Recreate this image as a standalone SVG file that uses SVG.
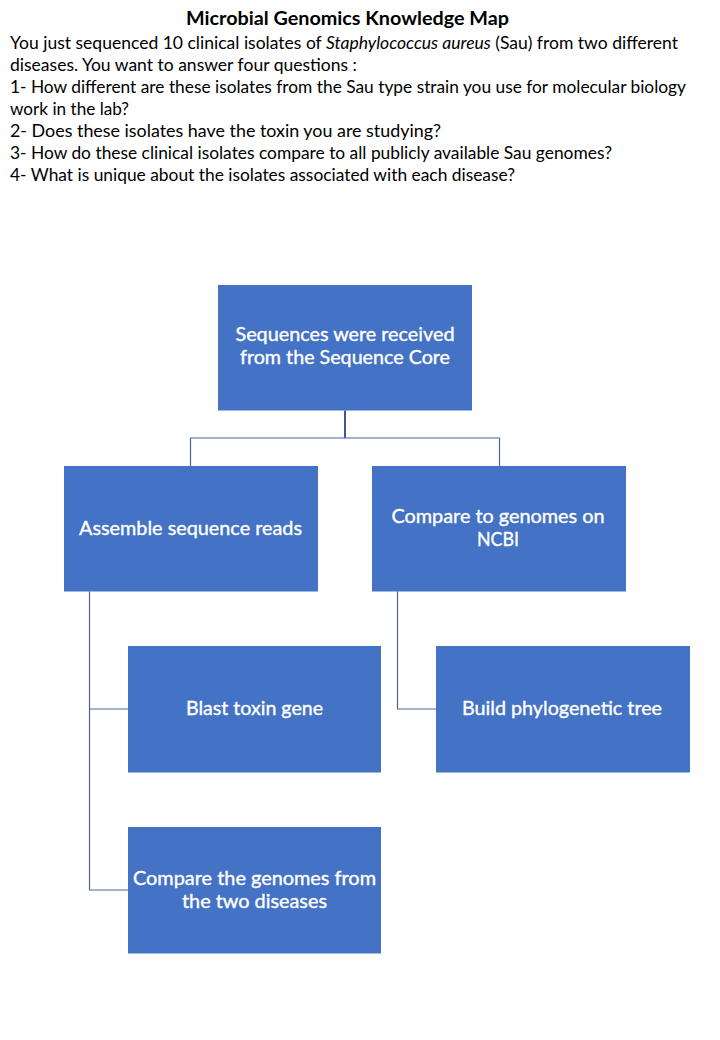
<svg xmlns="http://www.w3.org/2000/svg" width="720" height="1040" viewBox="0 0 720 1040">
<style>
.bg{fill:#ffffff}
.intro{font-family:Lato,"Open Sans","Liberation Sans",sans-serif;font-size:16.5px;fill:#000000}
.title{font-family:Lato,"Open Sans","Liberation Sans",sans-serif;font-size:18px;font-weight:bold;fill:#000000}
.box{fill:#4472C4}
.lbl{font-family:Lato,"Open Sans","Liberation Sans",sans-serif;font-size:18.5px;fill:#ffffff;stroke:#ffffff;stroke-width:0.35;text-anchor:middle}
.conn{fill:none;stroke:#4A6796;stroke-width:1.2}
.conn-main{fill:none;stroke:#3A5B92;stroke-width:2}
</style>
<rect class="bg" x="0" y="0" width="720" height="1040"/>
<g id="header">
<text class="title" x="186" y="25" textLength="323" lengthAdjust="spacingAndGlyphs">Microbial Genomics Knowledge Map</text>
<text class="intro" x="10" y="49" textLength="668" lengthAdjust="spacingAndGlyphs">You just sequenced 10 clinical isolates of <tspan font-style="italic">Staphylococcus aureus</tspan> (Sau) from two different</text>
<text class="intro" x="10" y="71" textLength="347" lengthAdjust="spacingAndGlyphs">diseases. You want to answer four questions :</text>
<text class="intro" x="10" y="93" textLength="676" lengthAdjust="spacingAndGlyphs">1- How different are these isolates from the Sau type strain you use for molecular biology</text>
<text class="intro" x="10" y="115" textLength="119" lengthAdjust="spacingAndGlyphs">work in the lab?</text>
<text class="intro" x="10" y="137" textLength="431" lengthAdjust="spacingAndGlyphs">2- Does these isolates have the toxin you are studying?</text>
<text class="intro" x="10" y="159" textLength="602" lengthAdjust="spacingAndGlyphs">3- How do these clinical isolates compare to all publicly available Sau genomes?</text>
<text class="intro" x="10" y="181" textLength="505" lengthAdjust="spacingAndGlyphs">4- What is unique about the isolates associated with each disease?</text>
</g>
<g id="connectors">
<line class="conn-main" x1="345" y1="410.5" x2="345" y2="438"/>
<polyline class="conn" points="190.5,466 190.5,438 499.5,438 499.5,466"/>
<polyline class="conn" points="89.5,591.5 89.5,890 128,890"/>
<line class="conn" x1="89.5" y1="709" x2="128" y2="709"/>
<polyline class="conn" points="397.5,591.5 397.5,709 436,709"/>
</g>
<g id="node-root">
<rect class="box" x="218" y="285" width="254" height="125.5"/>
<text class="lbl" x="345" y="341" textLength="219" lengthAdjust="spacingAndGlyphs">Sequences were received</text>
<text class="lbl" x="345" y="364" textLength="210" lengthAdjust="spacingAndGlyphs">from the Sequence Core</text>
</g>
<g id="node-assemble">
<rect class="box" x="64" y="466" width="254" height="125.5"/>
<text class="lbl" x="190.5" y="534.5" textLength="223" lengthAdjust="spacingAndGlyphs">Assemble sequence reads</text>
</g>
<g id="node-ncbi">
<rect class="box" x="372" y="466" width="254" height="125.5"/>
<text class="lbl" x="498" y="523" textLength="213" lengthAdjust="spacingAndGlyphs">Compare to genomes on</text>
<text class="lbl" x="498" y="546" textLength="42" lengthAdjust="spacingAndGlyphs">NCBI</text>
</g>
<g id="node-blast">
<rect class="box" x="128" y="646" width="253" height="126.5"/>
<text class="lbl" x="254.5" y="715" textLength="137" lengthAdjust="spacingAndGlyphs">Blast toxin gene</text>
</g>
<g id="node-tree">
<rect class="box" x="436" y="646" width="254" height="126.5"/>
<text class="lbl" x="562" y="715" textLength="200" lengthAdjust="spacingAndGlyphs">Build phylogenetic tree</text>
</g>
<g id="node-compare">
<rect class="box" x="128" y="827" width="253" height="126.5"/>
<text class="lbl" x="254.5" y="885" textLength="243" lengthAdjust="spacingAndGlyphs">Compare the genomes from</text>
<text class="lbl" x="254.5" y="908" textLength="145" lengthAdjust="spacingAndGlyphs">the two diseases</text>
</g>
</svg>
